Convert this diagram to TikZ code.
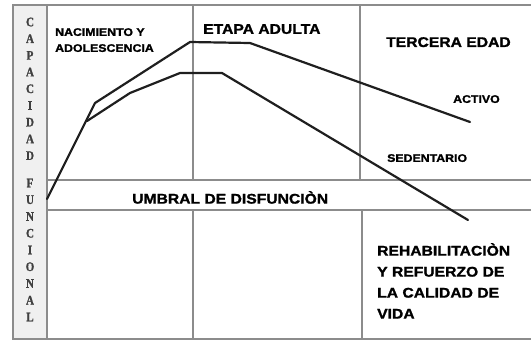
\documentclass[tikz,border=0pt]{standalone}
\usepackage{fontspec}
\setmainfont{Liberation Serif}[BoldFeatures={FakeBold=1.2, FakeStretch=0.85}]
\newfontfamily\negra{Liberation Sans}[FakeStretch=1.12, BoldFeatures={FakeBold=1.4}]
\usetikzlibrary{positioning}
\definecolor{marcogris}{gray}{0.55}
\definecolor{franja}{gray}{0.94}
\definecolor{trazo}{gray}{0.12}
\tikzset{
  marco/.style={draw=marcogris, line width=1.2pt},
  curva/.style={draw=trazo, line width=2.2pt, line join=round, line cap=round},
  etapa/.style={font=\negra\bfseries\fontsize{14}{21}\selectfont, anchor=north west, inner sep=0pt, align=left},
  rotulo/.style={font=\negra\bfseries\fontsize{11}{16}\selectfont, anchor=north west, inner sep=0pt, align=left},
  letra/.style={font=\rmfamily\bfseries\fontsize{13}{13}\selectfont, text=black!75, inner sep=0pt},
}

\begin{document}
\begin{tikzpicture}[x=1pt,y=-1pt]
    \useasboundingbox (0,0) rectangle (531,341);

    % franja del eje
    \filldraw[marco, fill=franja] (13,5) rectangle (47,339);
    \foreach \l [count=\i] in {C,A,P,A,C,I,D,A,D}
        \node[letra] (cap\i) at (30,{22+16.7*(\i-1)}) {\l};
    \foreach \l [count=\i] in {F,U,N,C,I,O,N,A,L}
        \node[letra] (fun\i) at (30,{183+16.75*(\i-1)}) {\l};

    % marco y umbral
    \draw[marco] (47,5) -- (531,5);
    \draw[marco] (47,339) -- (531,339);
    \draw[marco] (47,180) -- (531,180);
    \draw[marco] (47,210) -- (531,210);
    \draw[marco] (193,5) -- (193,180);
    \draw[marco] (193,210) -- (193,339);
    \draw[marco] (360,5) -- (360,180);
    \draw[marco] (362,210) -- (362,339);

    % curvas
    \draw[curva] (47,199) -- (95,103) -- (190,42) -- (250,43) -- (470,122);
    \draw[curva] (87,121) -- (130,93) -- (180,73) -- (222,73) -- (468,220);

    \node[rotulo] (nacim) at (55,28) {NACIMIENTO Y\\ADOLESCENCIA};
    \node[etapa] (adulta) at (203,24) {ETAPA ADULTA};
    \node[etapa] (tercera) at (386,37) {TERCERA EDAD};
    \node[rotulo] (activo) at (453,95) {ACTIVO};
    \node[rotulo] (sedent) at (387,154) {SEDENTARIO};
    \node[etapa] (umbral) at (132,191) {UMBRAL DE DISFUNCIÒN};
    \node[etapa] (rehab) at (377,243) {REHABILITACIÒN\\Y REFUERZO DE\\LA CALIDAD DE\\VIDA};
\end{tikzpicture}
\end{document}
